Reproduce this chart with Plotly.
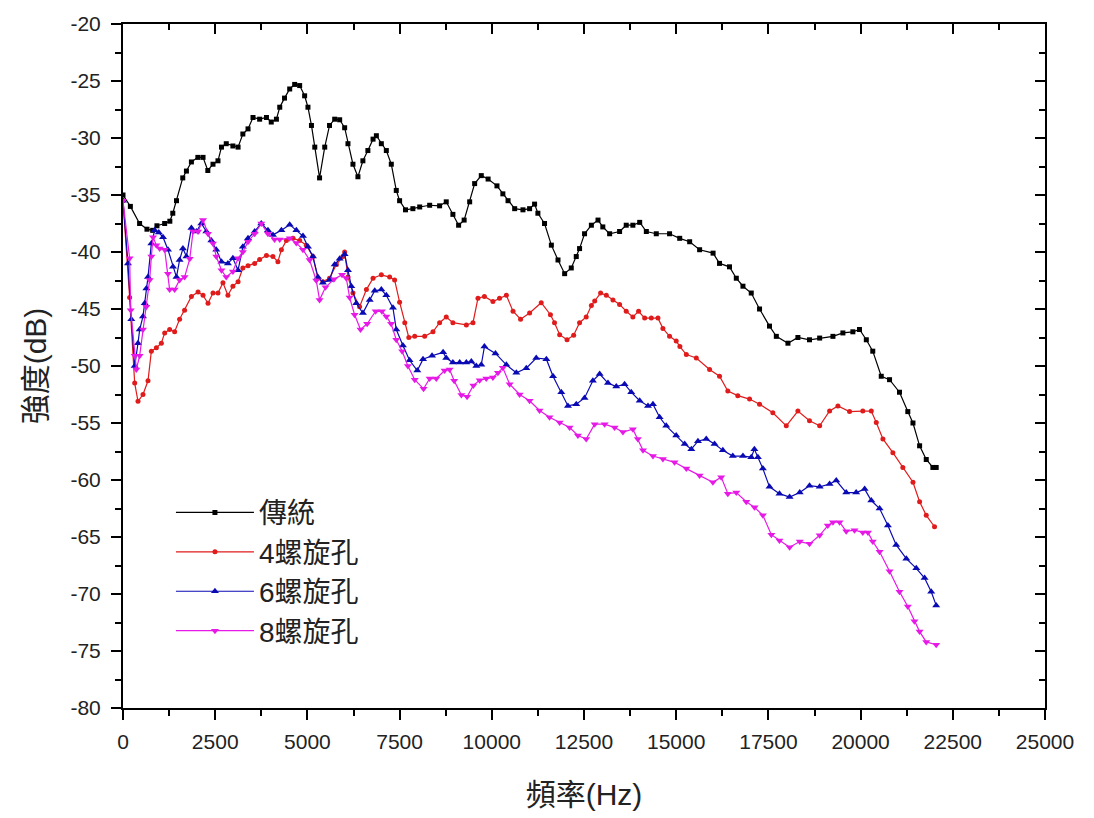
import plotly.graph_objects as go

# 頻譜量測資料：頻率 (Hz) 與強度 (dB)
freq_trad = [0, 200, 450, 650, 805, 920, 1130, 1270, 1350, 1450, 1620, 1720, 1855, 2030, 2170, 2300,
             2440, 2575, 2670, 2800, 2980, 3120, 3250, 3390, 3525, 3705, 3890, 4020, 4160, 4250, 4380,
             4520, 4655, 4790, 4925, 5015, 5110, 5200, 5330, 5470, 5600, 5740, 5875, 6010, 6100, 6235,
             6370, 6505, 6640, 6780, 6870, 7005, 7140, 7275, 7410, 7500, 7660, 7860, 8045, 8315, 8585,
             8765, 8945, 9100, 9250, 9400, 9535, 9715, 9900, 10140, 10300, 10440, 10620, 10845, 11025,
             11160, 11250, 11430, 11615, 11795, 11975, 12155, 12290, 12380, 12515, 12700, 12880, 13010,
             13195, 13465, 13645, 13825, 14010, 14190, 14460, 14820, 15095, 15365, 15635, 16000, 16175,
             16445, 16630, 16810, 17035, 17260, 17530, 17715, 18030, 18300, 18615, 18890, 19250, 19520,
             19790, 19970, 20155, 20330, 20560, 20785, 21055, 21280, 21420, 21600, 21780, 21960, 22050]
db_trad = [-35.0, -36.0, -37.5, -38.0, -38.1, -37.7, -37.5, -37.3, -36.6, -35.5, -33.5, -32.9, -32.1,
           -31.7, -31.7, -32.85, -32.3, -32.0, -30.8, -30.5, -30.7, -30.8, -29.65, -29.2, -28.2, -28.35,
           -28.2, -28.6, -28.35, -27.3, -26.5, -25.7, -25.3, -25.4, -26.3, -27.3, -28.9, -30.8, -33.5,
           -30.8, -28.9, -28.35, -28.4, -29.1, -30.5, -32.3, -33.4, -32.0, -31.1, -30.1, -29.8, -30.5,
           -31.1, -32.3, -34.6, -35.5, -36.3, -36.2, -36.05, -35.9, -35.95, -35.6, -36.7, -37.65, -37.2,
           -35.6, -34.0, -33.3, -33.6, -34.2, -34.9, -35.5, -36.2, -36.3, -36.2, -35.8, -36.6, -37.5,
           -39.4, -40.7, -41.9, -41.4, -40.4, -39.7, -38.4, -37.65, -37.2, -37.8, -38.4, -38.2, -37.65,
           -37.65, -37.4, -38.2, -38.4, -38.4, -38.8, -39.1, -39.8, -40.1, -41.0, -41.3, -42.3, -43.0,
           -43.6, -45.0, -46.5, -47.4, -48.0, -47.5, -47.7, -47.55, -47.4, -47.1, -47.0, -46.8, -47.7,
           -48.7, -50.9, -51.2, -52.3, -54.0, -55.0, -57.0, -58.2, -58.9, -58.9]

freq_4 = [0, 180, 317, 407, 542, 678, 769, 905, 1040, 1130, 1265, 1400, 1535, 1670, 1855, 2035, 2170,
          2305, 2440, 2575, 2710, 2845, 2980, 3120, 3250, 3390, 3570, 3705, 3890, 4065, 4200, 4295,
          4430, 4610, 4790, 4970, 5150, 5285, 5420, 5600, 5785, 5965, 6010, 6100, 6235, 6415, 6600,
          6780, 7005, 7230, 7365, 7500, 7640, 7750, 7910, 8180, 8405, 8585, 8765, 8945, 9310, 9490,
          9625, 9800, 10030, 10210, 10395, 10575, 10780, 11025, 11340, 11590, 11700, 11840, 12040,
          12220, 12380, 12560, 12700, 12790, 12950, 13105, 13285, 13465, 13645, 13825, 13980, 14145,
          14325, 14505, 14640, 14820, 15000, 15100, 15275, 15545, 15905, 16175, 16400, 16670, 16990,
          17260, 17620, 17985, 18300, 18615, 18890, 19160, 19385, 19700, 20060, 20290, 20425, 20605,
          20875, 21145, 21420, 21600, 21780, 22005]
db_4 = [-35.5, -44.0, -51.5, -53.1, -52.5, -51.3, -48.7, -48.4, -48.0, -47.1, -46.8, -47.0, -45.9,
        -45.1, -43.9, -43.5, -43.8, -44.5, -43.6, -43.6, -42.7, -43.8, -43.0, -42.6, -41.4, -41.2,
        -41.0, -40.65, -40.3, -40.4, -40.85, -39.8, -39.0, -38.8, -39.0, -39.4, -40.4, -42.3, -42.6,
        -42.3, -41.1, -40.4, -40.0, -42.2, -43.6, -44.8, -43.3, -42.3, -42.0, -42.2, -42.45, -44.4,
        -46.2, -47.5, -47.4, -47.4, -47.0, -46.2, -45.7, -46.2, -46.4, -46.2, -44.05, -43.9, -44.35,
        -44.05, -43.8, -45.2, -45.9, -45.35, -44.45, -45.5, -46.2, -47.25, -47.7, -47.3, -46.2, -45.7,
        -44.7, -44.3, -43.6, -43.8, -44.2, -44.6, -45.2, -45.7, -45.2, -45.8, -45.8, -45.8, -46.7,
        -47.4, -47.8, -48.3, -49.0, -49.3, -50.3, -50.9, -52.2, -52.6, -52.9, -53.35, -54.1, -55.25,
        -53.95, -54.8, -55.25, -53.95, -53.5, -54.0, -53.95, -53.95, -54.95, -56.4, -57.6, -58.9,
        -60.2, -61.9, -63.1, -64.1]

freq_6 = [0, 135, 225, 317, 407, 452, 542, 588, 633, 678, 769, 860, 970, 1085, 1220, 1355, 1450, 1535,
          1625, 1720, 1855, 1990, 2125, 2260, 2395, 2530, 2670, 2845, 2980, 3120, 3250, 3390, 3570,
          3750, 3930, 4065, 4295, 4520, 4700, 4880, 5015, 5150, 5285, 5420, 5600, 5740, 5875, 6010,
          6100, 6190, 6325, 6505, 6690, 6825, 7005, 7140, 7320, 7410, 7590, 7770, 7980, 8135, 8380,
          8680, 8765, 8945, 9130, 9310, 9445, 9580, 9715, 9800, 10100, 10395, 10665, 10935, 11205,
          11480, 11660, 11885, 12065, 12290, 12515, 12740, 12925, 13150, 13375, 13600, 13780, 14010,
          14235, 14370, 14550, 14730, 15000, 15230, 15410, 15590, 15815, 16040, 16265, 16535, 16810,
          17035, 17120, 17215, 17350, 17530, 17800, 18075, 18350, 18615, 18890, 19160, 19340, 19610,
          19880, 20110, 20290, 20515, 20740, 20965, 21240, 21510, 21735, 21915, 22050]
db_6 = [-35.5, -41.0, -45.9, -50.0, -48.0, -46.8, -45.65, -44.5, -43.2, -42.2, -39.25, -38.1, -38.3,
        -38.7, -39.8, -41.3, -42.2, -40.7, -39.7, -40.4, -37.9, -38.2, -37.5, -38.2, -39.0, -39.8,
        -40.85, -41.0, -40.55, -41.6, -39.55, -38.8, -38.2, -37.5, -38.1, -38.5, -38.1, -37.6, -38.1,
        -38.6, -39.55, -40.4, -42.2, -42.7, -42.45, -41.1, -40.6, -40.2, -41.6, -43.0, -44.5, -45.35,
        -44.2, -43.4, -43.3, -43.8, -44.9, -46.8, -48.2, -49.5, -50.4, -49.4, -49.1, -48.8, -49.3,
        -49.7, -49.7, -49.7, -49.6, -50.0, -49.9, -48.3, -48.9, -49.9, -50.6, -50.2, -49.3, -49.4,
        -50.9, -52.3, -53.5, -53.35, -52.8, -51.3, -50.7, -51.5, -51.8, -51.6, -52.3, -53.05, -53.5,
        -53.35, -54.5, -55.25, -56.1, -56.85, -57.3, -56.6, -56.4, -56.85, -57.4, -57.9, -57.9, -58.0,
        -57.3, -58.0, -59.0, -60.6, -61.2, -61.5, -61.1, -60.5, -60.6, -60.35, -60.05, -61.1, -61.1,
        -60.8, -61.8, -62.5, -64.0, -65.7, -66.9, -67.75, -68.6, -69.8, -71.0]

freq_8 = [0, 180, 210, 317, 362, 452, 542, 633, 723, 769, 815, 905, 995, 1130, 1220, 1265, 1400, 1535,
          1670, 1810, 1900, 2035, 2170, 2305, 2440, 2530, 2670, 2800, 2980, 3120, 3250, 3390, 3570,
          3750, 3930, 4110, 4250, 4520, 4700, 4880, 5060, 5240, 5330, 5490, 5720, 5940, 6055, 6145,
          6280, 6440, 6620, 6850, 7020, 7140, 7270, 7410, 7570, 7725, 7910, 8150, 8315, 8495, 8720,
          8855, 8980, 9175, 9330, 9500, 9670, 9850, 10030, 10165, 10300, 10485, 10755, 11025, 11295,
          11565, 11840, 12110, 12335, 12560, 12790, 13060, 13330, 13555, 13825, 13960, 14100, 14370,
          14640, 14955, 15275, 15635, 15995, 16220, 16400, 16630, 16900, 17125, 17350, 17580, 17800,
          18075, 18350, 18615, 18890, 19110, 19250, 19430, 19610, 19835, 20060, 20200, 20330, 20515,
          20785, 21055, 21280, 21460, 21600, 21780, 22050]
db_8 = [-35.5, -40.55, -45.1, -49.1, -50.3, -49.1, -46.8, -44.8, -42.45, -40.4, -38.7, -39.4, -39.7,
        -39.8, -41.9, -43.3, -43.3, -42.45, -42.2, -40.6, -38.2, -38.2, -37.2, -38.4, -39.25, -40.4,
        -41.6, -42.2, -41.7, -40.55, -40.0, -39.1, -38.4, -37.5, -38.4, -38.9, -38.9, -38.8, -39.2,
        -39.8, -40.7, -42.5, -44.2, -43.1, -42.4, -42.0, -42.3, -44.0, -45.5, -46.8, -46.3, -45.2,
        -45.2, -45.65, -46.3, -47.7, -48.7, -50.0, -51.2, -52.0, -51.1, -51.1, -50.4, -50.3, -51.3,
        -52.55, -52.7, -51.7, -51.25, -51.1, -51.0, -50.6, -50.15, -51.6, -52.5, -53.05, -53.9, -54.5,
        -54.95, -55.4, -56.1, -56.4, -55.1, -55.1, -55.4, -55.8, -55.55, -56.4, -57.4, -57.9, -58.15,
        -58.45, -59.0, -59.6, -60.2, -59.75, -61.2, -61.1, -61.9, -62.4, -63.1, -64.8, -65.3, -65.9,
        -65.4, -65.6, -64.85, -64.0, -63.7, -63.7, -64.5, -64.4, -64.6, -64.6, -65.4, -66.3, -68.0,
        -69.8, -71.1, -72.4, -73.3, -74.2, -74.45]

series_names = ["傳統", "4螺旋孔", "6螺旋孔", "8螺旋孔"]
x_ticks = [0, 2500, 5000, 7500, 10000, 12500, 15000, 17500, 20000, 22500, 25000]
y_ticks = [-80, -75, -70, -65, -60, -55, -50, -45, -40, -35, -30, -25, -20]

FONT = "Liberation Sans, Arial, Noto Sans CJK TC, sans-serif"

styles = [
    dict(color="#000000", symbol="square", size=5),
    dict(color="#e01b1b", symbol="circle", size=5),
    dict(color="#0a0ab4", symbol="triangle-up", size=7),
    dict(color="#e619e6", symbol="triangle-down", size=7),
]
data = [(freq_trad, db_trad), (freq_4, db_4), (freq_6, db_6), (freq_8, db_8)]

fig = go.Figure()
for i, ((xs, ys), name, st) in enumerate(zip(data, series_names, styles)):
    fig.add_trace(go.Scatter(
        x=xs, y=ys, name=name, mode="lines+markers",
        line=dict(color=st["color"], width=1.2),
        marker=dict(color=st["color"], symbol=st["symbol"], size=st["size"], line=dict(width=0)),
        legendgroup=f"g{i}",
    ))

# secondary axes carry the inward ticks on the top and right frame
fig.add_trace(go.Scatter(x=[], y=[], xaxis="x2", yaxis="y2", showlegend=False, hoverinfo="skip"))

axis_common = dict(showline=True, linecolor="black", linewidth=2, showgrid=False, zeroline=False,
                   tickcolor="black", tickwidth=2)

fig.update_layout(
    width=1094, height=818,
    margin=dict(l=123, r=49, t=23, b=108),
    paper_bgcolor="white", plot_bgcolor="white",
    font=dict(family=FONT, color="#222222"),
    xaxis=dict(range=[0, 25000], tickvals=x_ticks, ticktext=[str(v) for v in x_ticks],
               ticks="outside", ticklen=10, ticklabelstandoff=4,
               minor=dict(dtick=1250, tick0=0, ticks="outside", ticklen=6, tickcolor="black", tickwidth=2),
               tickfont=dict(size=21, family=FONT),
               title=dict(text="頻率(Hz)", font=dict(size=30, family=FONT), standoff=32),
               **axis_common),
    yaxis=dict(range=[-80, -20], tickvals=y_ticks, ticktext=[str(v) for v in y_ticks],
               ticks="outside", ticklen=10, ticklabelstandoff=6,
               minor=dict(dtick=2.5, tick0=-80, ticks="outside", ticklen=6, tickcolor="black", tickwidth=2),
               tickfont=dict(size=21, family=FONT),
               title=dict(text="強度(dB)", font=dict(size=30, family=FONT), standoff=15),
               **axis_common),
    xaxis2=dict(range=[0, 25000], overlaying="x", side="top", anchor="y",
                tickvals=x_ticks, ticks="inside", ticklen=10, showticklabels=False,
                minor=dict(dtick=1250, tick0=0, ticks="inside", ticklen=6, tickcolor="black", tickwidth=2),
                **axis_common),
    yaxis2=dict(range=[-80, -20], overlaying="y", side="right", anchor="x",
                tickvals=y_ticks, ticks="inside", ticklen=10, showticklabels=False,
                minor=dict(dtick=2.5, tick0=-80, ticks="inside", ticklen=6, tickcolor="black", tickwidth=2),
                **axis_common),
    legend=dict(x=0.052, y=0.322, xanchor="left", yanchor="top",
                bgcolor="rgba(0,0,0,0)", font=dict(size=28, family=FONT, color="#222222"),
                tracegroupgap=0, itemwidth=78),
    showlegend=True,
)

fig.write_html("out.html")
